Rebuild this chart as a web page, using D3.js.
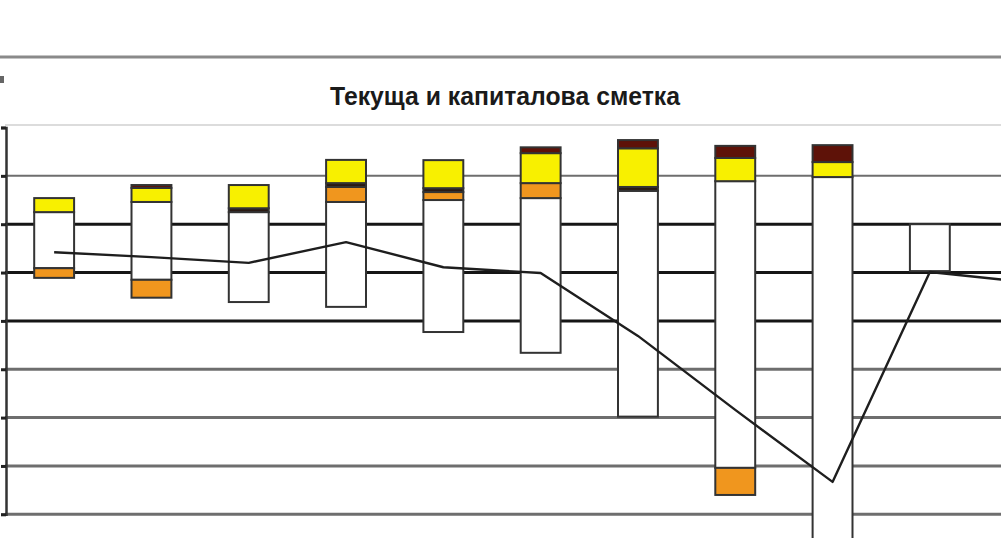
<!DOCTYPE html>
<html><head><meta charset="utf-8">
<script src="https://cdn.jsdelivr.net/npm/d3@7"></script>
<style>html,body{margin:0;padding:0;background:#fff;overflow:hidden}</style>
</head><body>
<svg id="c" width="1001" height="538"></svg>
<script>
// categories (years)
const years = ["2000","2001","2002","2003","2004","2005","2006","2007","2008","2009","2010"];
// value where each stack starts (млн. евро)
const base      = [250, 460, 250, 460, 500, 540, 690, 890, 975, 0, null];
// series values
const trade     = [-1160, -1610, -1860, -2170, -2730, -3200, -4670, -5930, -8000, -970, null]; // търговски баланс
const services  = [-200, -370, 0, 310, 165, 310, 0, -560, 0, 0, null];                         // услуги
const income    = [0, 0, 80, 80, 80, 0, 80, 0, 0, 0, null];                                     // доход
const transfers = [290, 290, 480, 480, 580, 620, 800, 480, 310, 0, null];                       // текущи трансфери
const capital   = [0, 60, 0, 0, 0, 120, 170, 250, 350, 0, null];                                // капиталова сметка
// balance line
const balance   = [-580, -680, -800, -370, -890, -1010, -2310, -3840, -5330, -990, -1200];
// y tick values
const yTicks = [2000, 1000, 0, -1000, -2000, -3000, -4000, -5000, -6000];
const title = "Текуща и капиталова сметка";

const series = [
  {name:"Търговски баланс", vals: trade, fill:"#ffffff"},
  {name:"Услуги", vals: services, fill:"#f0961e"},
  {name:"Доход", vals: income, fill:"#2b1a12"},
  {name:"Текущи трансфери", vals: transfers, fill:"#f8f000"},
  {name:"Капиталова сметка", vals: capital, fill:"#5e1208"}
];

const svg = d3.select("#c");
const x = d3.scalePoint().domain(years).range([5.5, 1075.8]).padding(0.5);
const barW = x.step() * 0.41;
const y = d3.scaleLinear().domain([-6000, 2000]).range([514.3, 127.5]);

// chart frame top border
svg.append("line").attr("x1",0).attr("x2",1001).attr("y1",57).attr("y2",57)
  .attr("stroke","#8a8a8a").attr("stroke-width",3);
svg.append("rect").attr("x",0).attr("y",76).attr("width",4).attr("height",7).attr("fill","#666");

// title
svg.append("text").attr("x",505).attr("y",105).attr("text-anchor","middle")
  .attr("font-family","Liberation Sans, Arial, sans-serif").attr("font-weight","bold")
  .attr("font-size",25).attr("textLength",350).attr("lengthAdjust","spacingAndGlyphs")
  .attr("fill","#1a1a1a").text(title);

// plot top border (faint)
svg.append("line").attr("x1",5).attr("x2",1001).attr("y1",125).attr("y2",125)
  .attr("stroke","#dcdcdc").attr("stroke-width",2);

// gridlines
const gridColor = v => (v <= 0 && v >= -2000) ? "#151515" : "#6e6e6e";
const gridW = v => (v <= 0 && v >= -2000) ? 3 : (v > 0 ? 2 : 3);
svg.append("g").selectAll("line").data(yTicks.slice(1)).join("line")
  .attr("x1",5).attr("x2",1001)
  .attr("y1",d=>y(d)).attr("y2",d=>y(d))
  .attr("stroke",gridColor).attr("stroke-width",gridW);

// y axis
const yAxis = d3.axisLeft(y).tickValues(yTicks).tickSize(5).tickFormat("");
const ga = svg.append("g").attr("transform","translate(6,0)").call(yAxis);
ga.select(".domain").attr("stroke","#333").attr("stroke-width",2.5);
ga.selectAll(".tick line").attr("stroke","#222").attr("stroke-width",3);

// stacks
const segs = [];
years.forEach((yr,i)=>{
  if (base[i] === null) return;
  let pos = base[i], neg = base[i];
  series.forEach(s=>{
    const v = s.vals[i];
    if (!v) return;
    let y0, y1;
    if (v >= 0) { y0 = pos; y1 = pos + v; pos = y1; }
    else { y0 = neg; y1 = neg + v; neg = y1; }
    segs.push({yr, y0, y1, fill:s.fill, name:s.name});
  });
});
svg.append("g").selectAll("rect").data(segs).join("rect")
  .attr("x",d=>x(d.yr)-barW/2)
  .attr("width",barW)
  .attr("y",d=>y(Math.max(d.y0,d.y1)))
  .attr("height",d=>Math.abs(y(d.y0)-y(d.y1)))
  .attr("fill",d=>d.fill)
  .attr("stroke","#333").attr("stroke-width",2);

// balance line
const line = d3.line().x((d,i)=>x(years[i])).y(d=>y(d));
svg.append("path").datum(balance).attr("d",line)
  .attr("fill","none").attr("stroke","#1e1e1e").attr("stroke-width",2.4)
  .attr("stroke-linejoin","round");
</script>
</body></html>
